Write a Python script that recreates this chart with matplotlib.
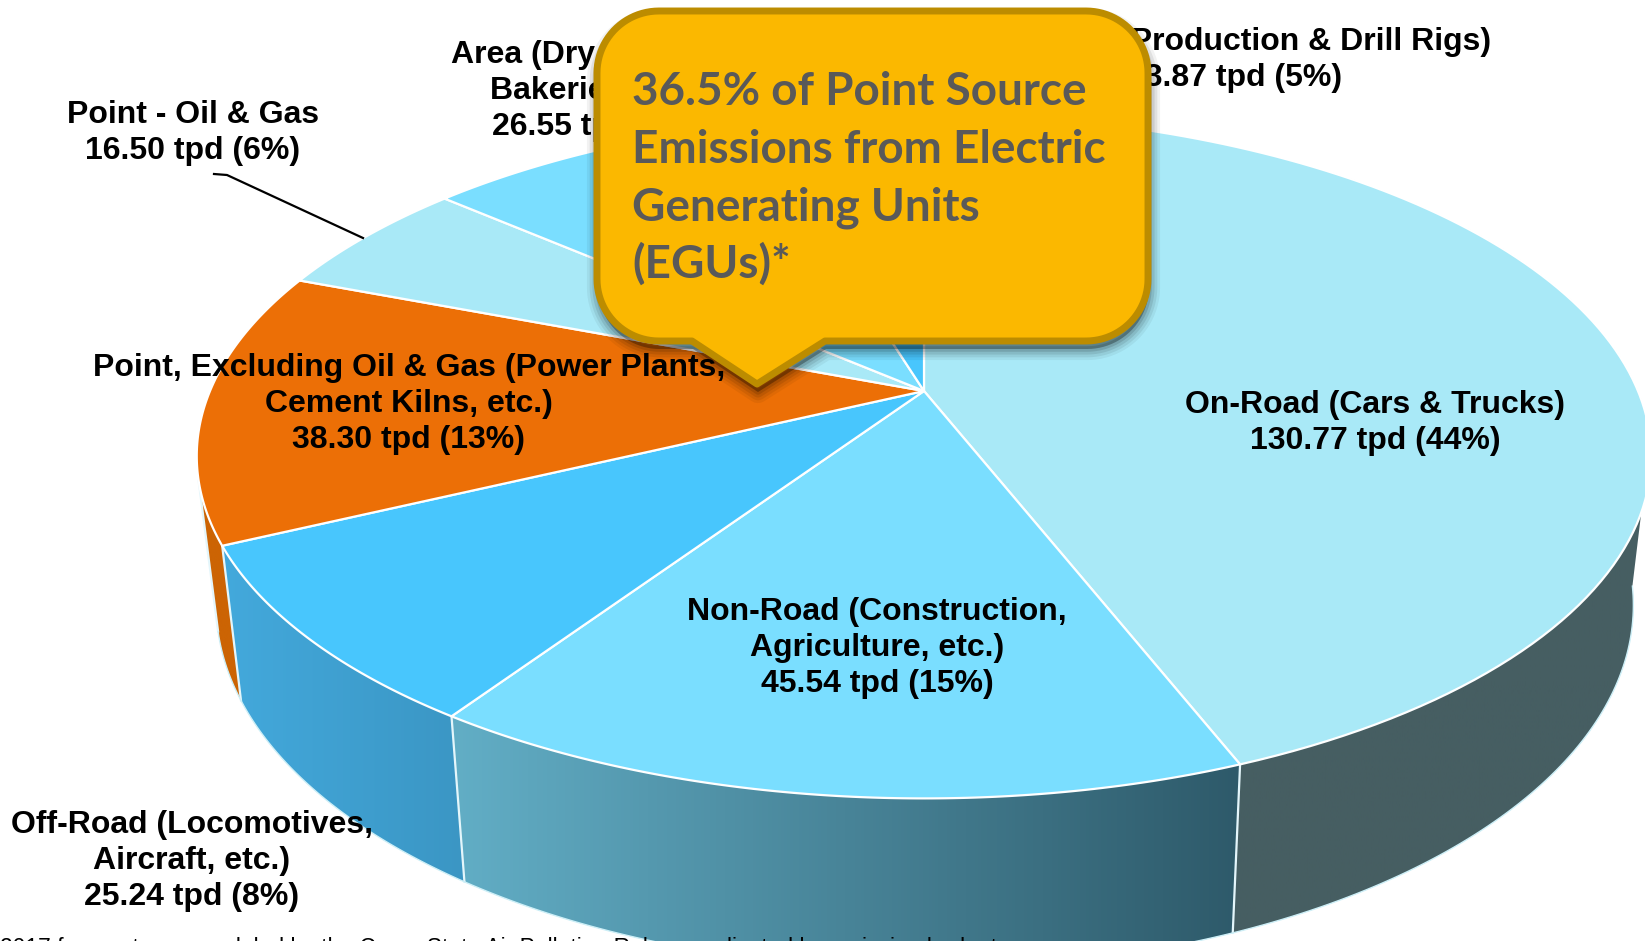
import numpy as np
import matplotlib
matplotlib.use("Agg")
import matplotlib.pyplot as plt
from matplotlib.colors import LinearSegmentedColormap
from matplotlib.patches import Polygon

# Emissions by sector (tpd), clockwise from 12 o'clock
sectors = ["On-Road", "Non-Road", "Off-Road", "Point excl. Oil & Gas", "Point Oil & Gas", "Area", "Production"]
tpd = [130.77, 45.54, 25.24, 38.30, 16.50, 26.55, 13.87]
top_colors = ["#A9E9F7", "#7ADEFF", "#48C6FD", "#EC6F06", "#A9E9F7", "#7ADEFF", "#48C6FD"]

labels = [
    "On-Road (Cars & Trucks)\n130.77 tpd (44%)",
    "Non-Road (Construction,\nAgriculture, etc.)\n45.54 tpd (15%)",
    "Off-Road (Locomotives,\nAircraft, etc.)\n25.24 tpd (8%)",
    "Point, Excluding Oil & Gas (Power Plants,\nCement Kilns, etc.)\n38.30 tpd (13%)",
    "Point - Oil & Gas\n16.50 tpd (6%)",
    "Area (Dry Cleaners,\nBakeries, etc.)\n26.55 tpd (9%)",
    "Oil & Gas Production & Drill Rigs)\n13.87 tpd (5%)",
]
label_xy = [(1375, 423), (877, 648), (192, 861), (409, 404), (193, 133), (599, 91), (1235, 60)]

callout_lines = ["36.5% of Point Source", "Emissions from Electric", "Generating Units", "(EGUs)*"]
callout_base = [105, 163, 220, 278]
footnote = "2017 forecast year modeled by the Cross-State Air Pollution Rule are adjusted by emission budgets"

W, H = 1645, 941
CX, CY = 924, 391   # apex of the pie
A, B, K = 714, 330, 0.19  # ellipse radii and perspective


def top_rim(theta):
    # theta in degrees clockwise from the back of the pie
    t = np.radians(theta)
    w = 1 + K * np.cos(t)
    return A * np.sin(t) / w, B * np.cos(t) / w


def to_top(u, v):
    return CX + u, CY - v


def to_bottom(u, v):
    x = CX + u
    return x - 0.0257 * (x - 916) + 1, 536 - 1.063 * v


fig = plt.figure(figsize=(W / 100, H / 100), dpi=100)
ax = fig.add_axes([0, 0, 1, 1])
ax.set_xlim(0, W)
ax.set_ylim(H, 0)
ax.axis("off")

cum = np.concatenate([[0], np.cumsum(tpd)]) / np.sum(tpd) * 360

# side walls, only the front ones can be seen (ends are cut straight at the silhouette)
walls = [
    (98, cum[1], "#465E62", "#465E62"),
    (cum[1], cum[2], "#2E5A6A", "#62AEC6"),
    (cum[2], cum[3], "#3B96C4", "#43A9DC"),
    (cum[3], 255, "#CC6404", "#CC6404"),
]
for t0, t1, c0, c1 in walls:
    th = np.linspace(t0, t1, 80)
    u, v = top_rim(th)
    xt, yt = to_top(u, v)
    xb, yb = to_bottom(u, v)
    pts = np.column_stack([np.r_[xt, xb[::-1]], np.r_[yt, yb[::-1]]])
    poly = Polygon(pts, closed=True, fc="none", ec="none", zorder=2)
    ax.add_patch(poly)
    x_lo, x_hi = pts[:, 0].min(), pts[:, 0].max()
    cmap = LinearSegmentedColormap.from_list("w", [c1, c0])
    im = ax.imshow(np.linspace(0, 1, 256)[None, :], cmap=cmap, aspect="auto", zorder=2,
                   extent=(x_lo, x_hi, pts[:, 1].max(), pts[:, 1].min()))
    im.set_clip_path(poly)
    # seam and lower edge
    ax.plot([xt[-1], xb[-1]], [yt[-1], yb[-1]], color="#E4F6FB", lw=1.6, zorder=3)
    ax.plot(xb, yb, color="#CDEFF7", lw=1.0, zorder=3)
ax.set_xlim(0, W)
ax.set_ylim(H, 0)

# top face
for i, c in enumerate(top_colors):
    th = np.linspace(cum[i], cum[i + 1], 120)
    u, v = top_rim(th)
    x, y = to_top(u, v)
    pts = np.column_stack([np.r_[CX, x], np.r_[CY, y]])
    ax.add_patch(Polygon(pts, closed=True, fc=c, ec="white", lw=1.6, joinstyle="round", zorder=4))

# sector labels
for txt, (x, y) in zip(labels, label_xy):
    ax.text(x, y, txt, ha="center", va="center", family="Liberation Sans", weight="bold",
            fontsize=23, linespacing=1.28, color="black", zorder=6)

# leader line for the oil & gas slice
ax.plot([214, 227, 363], [174, 175, 238], color="black", lw=1.6, zorder=6)

# callout box with pointer
L, R, T, Bt, r = 597, 1148, 11, 341, 62
corner = np.radians(np.linspace(0, 90, 24))
box = np.vstack([
    np.column_stack([L + r - r * np.cos(corner), T + r - r * np.sin(corner)]),
    np.column_stack([R - r + r * np.sin(corner), T + r - r * np.cos(corner)]),
    np.column_stack([R - r + r * np.cos(corner), Bt - r + r * np.sin(corner)]),
    [[825, Bt], [757, 384], [692, Bt]],
    np.column_stack([L + r - r * np.sin(corner), Bt - r + r * np.cos(corner)]),
])
for grow, alpha in zip([16, 12, 8, 4], [0.05, 0.07, 0.09, 0.12]):
    ax.add_patch(Polygon(box + [1, 8], closed=True, fc="black", ec="black", lw=grow,
                         alpha=alpha, joinstyle="round", zorder=7))
ax.add_patch(Polygon(box, closed=True, fc="#FBB800", ec="#BC8C00", lw=5, joinstyle="round", zorder=8))
for line, base in zip(callout_lines, callout_base):
    ax.text(632, base, line, ha="left", va="baseline", family="Lato", weight="bold",
            fontsize=33, color="#595959", zorder=9)

# footnote, cut off by the page edge
ax.text(0, 937, footnote, ha="left", va="top", family="Liberation Sans", fontsize=16.5, color="black", zorder=6)

fig.savefig("out.png", dpi=100, facecolor="white")
